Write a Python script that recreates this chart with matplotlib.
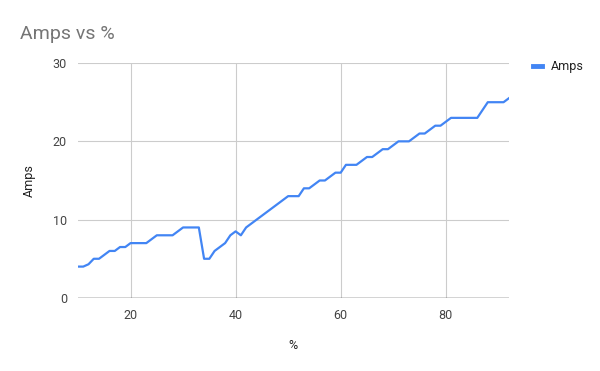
import matplotlib
matplotlib.use("Agg")
import matplotlib.pyplot as plt

plt.rcParams['font.family'] = ['Roboto', 'DejaVu Sans']

# percent on x, amps on y
pct = list(range(10, 93))
amps = [4, 4, 4.3, 5, 5, 5.5, 6, 6, 6.5, 6.5,
        7, 7, 7, 7, 7.5, 8, 8, 8, 8, 8.5,
        9, 9, 9, 9, 5, 5, 6, 6.5, 7, 8,
        8.5, 8, 9, 9.5, 10, 10.5, 11, 11.5, 12, 12.5,
        13, 13, 13, 14, 14, 14.5, 15, 15, 15.5, 16,
        16, 17, 17, 17, 17.5, 18, 18, 18.5, 19, 19,
        19.5, 20, 20, 20, 20.5, 21, 21, 21.5, 22, 22,
        22.5, 23, 23, 23, 23, 23, 23, 24, 25, 25,
        25, 25, 25.5]
yticks = [0, 10, 20, 30]
xticks = [20, 40, 60, 80]

fig = plt.figure(figsize=(6, 3.71), dpi=100)
ax = fig.add_axes([0.13, 0.197, 0.718, 0.633])

ax.plot(pct, amps, color="#4285F4", linewidth=1.6, label="Amps")

ax.set_xlim(10, 92)
ax.set_ylim(0, 30)
ax.set_xticks(xticks)
ax.set_yticks(yticks)
ax.grid(True, color="#cccccc", linewidth=0.8)
ax.set_axisbelow(True)
ax.axhline(0, color="#333333", linewidth=1.0)

for s in ax.spines.values():
    s.set_visible(False)
ax.tick_params(length=0, labelsize=9, colors="#444444", pad=8)

ax.set_xlabel("%", fontsize=9, color="#222222", labelpad=12)
ax.set_ylabel("Amps", fontsize=9, color="#222222", labelpad=12)

fig.text(0.033, 0.895, "Amps vs %", fontsize=14, color="#757575")

ax.legend(loc="upper left", bbox_to_anchor=(1.03, 1.06), frameon=False,
          fontsize=9, labelcolor="#222222", handlelength=0.75, handletextpad=0.7)
leg = ax.get_legend()
for h in leg.get_lines():
    h.set_linewidth(3.5)

fig.savefig("out.png", dpi=100)
